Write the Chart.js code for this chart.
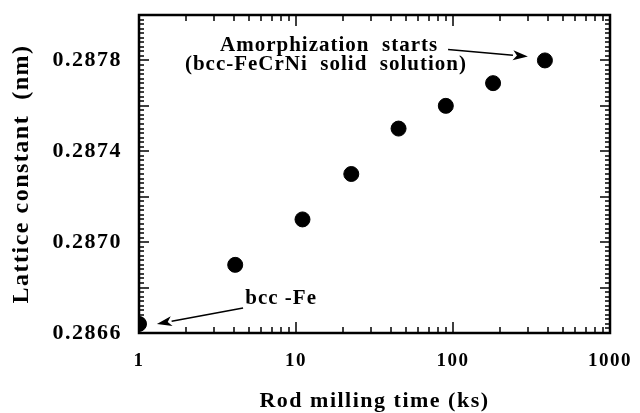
<!DOCTYPE html>
<html lang="en">
  <head>
    <meta charset="UTF-8" />
    <title>Lattice constant vs rod milling time</title>
    <script src="https://cdn.jsdelivr.net/npm/chart.js"></script>
    <style>
      html, body { margin: 0; padding: 0; background: #fff; }
      #wrap { width: 640px; height: 413px; }
    </style>
  </head>
  <body>
    <div id="wrap"><canvas id="chart"></canvas></div>

    <script>
      const millingTime = [1, 4.1, 11, 22.5, 45, 90, 180, 385];
      const latticeConstant = [0.28664, 0.2869, 0.2871, 0.2873, 0.2875, 0.2876, 0.2877, 0.2878];
      const xTicks = [1, 10, 100, 1000];
      const yTicks = [0.2866, 0.287, 0.2874, 0.2878];

      // annotation text anchors and arrows, in data units
      const notes = [
        { text: "Amorphization  starts", x: 3.28, y: 0.287867 },
        { text: "(bcc-FeCrNi  solid  solution)", x: 1.96, y: 0.287783 },
        { text: "bcc -Fe", x: 4.75, y: 0.28675 },
      ];
      const arrows = [
        { from: [93, 0.287848], to: [300, 0.287817] },
        { from: [4.6, 0.28671], to: [1.3, 0.28664] },
      ];

      const serif = "'Liberation Serif', 'Times New Roman', serif";

      const spacing = {
        id: "spacing",
        beforeDraw(chart) { chart.ctx.letterSpacing = "1.5px"; },
        afterDraw(chart) { chart.ctx.letterSpacing = "0px"; },
      };

      const frame = {
        id: "frame",
        afterDraw(chart) {
          const { ctx, chartArea: a, scales } = chart;
          const xs = scales.x, ys = scales.y;
          ctx.save();
          ctx.strokeStyle = "#000";
          ctx.lineWidth = 1.5;
          // x ticks, inward on bottom and top
          ctx.beginPath();
          for (const d of [1, 10, 100]) {
            for (let k = 1; k <= 9; k++) {
              const px = Math.round(xs.getPixelForValue(d * k));
              const len = k === 1 ? 11 : 6;
              ctx.moveTo(px, a.bottom); ctx.lineTo(px, a.bottom - len);
              ctx.moveTo(px, a.top); ctx.lineTo(px, a.top + len);
            }
          }
          ctx.stroke();
          // y ticks, inward on left and right
          ctx.beginPath();
          for (let i = 0; i <= 70; i++) {
            const py = Math.round(ys.getPixelForValue(0.2866 + i * 0.00002));
            const len = i % 10 === 0 ? 10 : 5;
            ctx.moveTo(a.left, py); ctx.lineTo(a.left + len, py);
            ctx.moveTo(a.right, py); ctx.lineTo(a.right - len, py);
          }
          ctx.stroke();
          ctx.lineWidth = 2.5;
          ctx.strokeRect(a.left, a.top, a.right - a.left, a.bottom - a.top);

          // annotations
          ctx.fillStyle = "#000";
          ctx.font = "bold 21px " + serif;
          ctx.letterSpacing = "1px";
          ctx.textAlign = "left";
          ctx.textBaseline = "middle";
          notes.forEach((n) => {
            ctx.fillText(n.text, xs.getPixelForValue(n.x), ys.getPixelForValue(n.y));
          });
          ctx.lineWidth = 1.6;
          arrows.forEach((ar) => {
            const x0 = xs.getPixelForValue(ar.from[0]), y0 = ys.getPixelForValue(ar.from[1]);
            const x1 = xs.getPixelForValue(ar.to[0]), y1 = ys.getPixelForValue(ar.to[1]);
            const ang = Math.atan2(y1 - y0, x1 - x0);
            const hl = 15, hw = 5;
            const bx = x1 - hl * Math.cos(ang), by = y1 - hl * Math.sin(ang);
            ctx.beginPath();
            ctx.moveTo(x0, y0); ctx.lineTo(bx, by);
            ctx.stroke();
            ctx.beginPath();
            ctx.moveTo(x1, y1);
            ctx.lineTo(bx + hw * Math.sin(ang), by - hw * Math.cos(ang));
            ctx.lineTo(bx + 4 * Math.cos(ang), by + 4 * Math.sin(ang));
            ctx.lineTo(bx - hw * Math.sin(ang), by + hw * Math.cos(ang));
            ctx.closePath();
            ctx.fill();
          });
          ctx.restore();
        },
      };

      new Chart(document.getElementById("chart"), {
        type: "scatter",
        data: {
          datasets: [
            {
              data: millingTime.map((t, i) => ({ x: t, y: latticeConstant[i] })),
              backgroundColor: "#000",
              borderColor: "#000",
              pointRadius: 7.5,
              pointHoverRadius: 7.5,
            },
          ],
        },
        options: {
          responsive: true,
          maintainAspectRatio: false,
          animation: false,
          events: [],
          layout: { autoPadding: false, padding: { top: 15, right: 30, left: 0, bottom: 0 } },
          plugins: { legend: { display: false }, tooltip: { enabled: false } },
          scales: {
            x: {
              type: "logarithmic",
              min: 1,
              max: 1000,
              afterBuildTicks: (s) => { s.ticks = xTicks.map((v) => ({ value: v })); },
              afterFit: (s) => { s.height = 80; s.paddingLeft = 0; s.paddingRight = 0; },
              grid: { display: false, drawTicks: false },
              border: { display: false },
              ticks: {
                autoSkip: false,
                maxRotation: 0,
                padding: 17,
                color: "#000",
                font: { family: serif, size: 19, weight: "bold" },
                callback: (v) => String(v),
              },
              title: {
                display: true,
                text: "Rod milling time (ks)",
                color: "#000",
                padding: { top: 0, bottom: -2 },
                font: { family: serif, size: 22, weight: "bold" },
              },
            },
            y: {
              min: 0.2866,
              max: 0.288,
              afterBuildTicks: (s) => { s.ticks = yTicks.map((v) => ({ value: v })); },
              afterFit: (s) => { s.width = 139; s.paddingTop = 0; s.paddingBottom = 0; },
              grid: { display: false, drawTicks: false },
              border: { display: false },
              ticks: {
                padding: 17,
                color: "#000",
                font: { family: serif, size: 22, weight: "bold" },
                callback: (v) => v.toFixed(4),
              },
              title: {
                display: true,
                text: "Lattice constant  (nm)",
                color: "#000",
                padding: { top: 7, bottom: 0 },
                font: { family: serif, size: 24, weight: "bold" },
              },
            },
          },
        },
        plugins: [spacing, frame],
      });
    </script>
  </body>
</html>
